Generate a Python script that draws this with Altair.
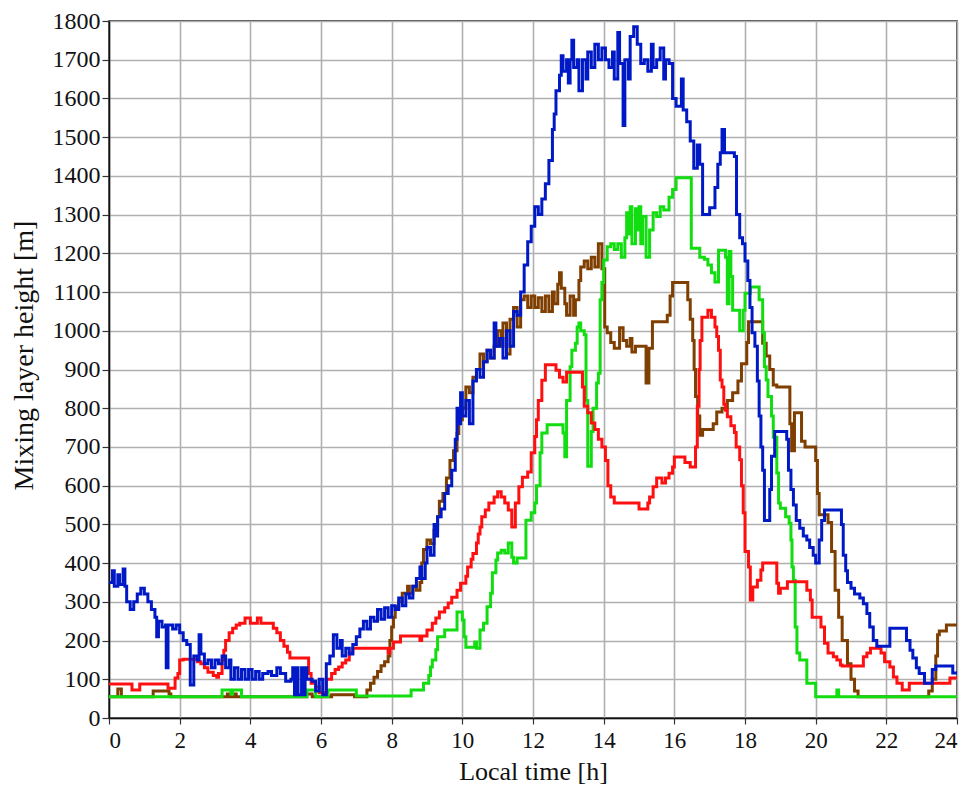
import altair as alt
import pandas as pd

# ---- series: (local time [h], mixing layer height [m]) step points ----
blue = [(0.0, 350), (0.1, 380), (0.15, 340), (0.25, 370), (0.3, 345), (0.4, 385), (0.45, 340),
        (0.5, 300), (0.6, 280), (0.7, 300), (0.8, 320), (0.9, 335), (1.0, 320), (1.1, 300),
        (1.2, 280), (1.3, 260), (1.35, 210), (1.4, 250), (1.5, 235), (1.6, 240), (1.62, 130),
        (1.67, 240), (1.8, 230), (1.9, 240), (2.0, 220), (2.1, 200), (2.2, 190), (2.3, 85),
        (2.4, 160), (2.5, 150), (2.55, 215), (2.6, 165), (2.7, 140), (2.8, 150), (2.9, 130),
        (3.0, 150), (3.1, 140), (3.2, 160), (3.3, 130), (3.4, 150), (3.45, 100), (3.55, 130),
        (3.65, 100), (3.75, 125), (3.85, 100), (3.95, 125), (4.05, 100), (4.15, 120), (4.25, 100),
        (4.35, 115), (4.5, 120), (4.6, 110), (4.75, 130), (4.85, 115), (5.0, 95), (5.15, 100),
        (5.2, 130), (5.25, 60), (5.3, 130), (5.35, 60), (5.45, 130), (5.5, 60), (5.55, 130),
        (5.6, 100), (5.75, 95), (5.85, 70), (5.95, 100), (6.05, 60), (6.15, 140), (6.25, 160),
        (6.35, 215), (6.45, 180), (6.55, 200), (6.6, 160), (6.7, 180), (6.8, 165), (6.9, 190),
        (7.0, 210), (7.1, 230), (7.2, 250), (7.3, 230), (7.4, 260), (7.5, 250), (7.6, 280),
        (7.7, 255), (7.8, 285), (7.9, 260), (8.0, 290), (8.1, 280), (8.2, 310), (8.3, 290),
        (8.4, 320), (8.5, 310), (8.6, 340), (8.7, 360), (8.8, 390), (8.85, 360), (8.95, 400),
        (9.0, 440), (9.1, 420), (9.2, 500), (9.25, 470), (9.3, 520), (9.4, 540), (9.5, 580),
        (9.6, 600), (9.7, 640), (9.8, 720), (9.85, 800), (9.9, 760), (9.95, 840), (10.0, 780),
        (10.1, 820), (10.2, 760), (10.3, 870), (10.4, 900), (10.5, 880), (10.6, 920), (10.7, 950),
        (10.8, 930), (10.9, 1020), (10.95, 960), (11.05, 980), (11.15, 930), (11.25, 1000),
        (11.35, 960), (11.45, 1050), (11.55, 1040), (11.65, 1100), (11.75, 1170), (11.85, 1230),
        (11.95, 1270), (12.05, 1320), (12.15, 1300), (12.25, 1340), (12.35, 1380), (12.45, 1440),
        (12.55, 1520), (12.6, 1560), (12.65, 1620), (12.75, 1660), (12.8, 1710), (12.85, 1670),
        (12.95, 1700), (13.0, 1640), (13.05, 1700), (13.1, 1750), (13.15, 1680), (13.25, 1700),
        (13.3, 1620), (13.4, 1700), (13.5, 1650), (13.55, 1720), (13.65, 1680), (13.75, 1740),
        (13.85, 1700), (13.95, 1730), (14.05, 1700), (14.15, 1680), (14.25, 1720), (14.3, 1650),
        (14.4, 1770), (14.45, 1690), (14.55, 1530), (14.6, 1700), (14.7, 1650), (14.75, 1760),
        (14.85, 1785), (14.95, 1740), (15.05, 1690), (15.15, 1700), (15.25, 1670), (15.35, 1740),
        (15.4, 1680), (15.5, 1700), (15.6, 1730), (15.7, 1650), (15.75, 1700), (15.85, 1690),
        (15.95, 1600), (16.05, 1580), (16.2, 1650), (16.25, 1570), (16.35, 1540), (16.45, 1490),
        (16.55, 1420), (16.65, 1480), (16.72, 1430), (16.8, 1300), (17.0, 1318), (17.15, 1370),
        (17.23, 1430), (17.3, 1460), (17.35, 1520), (17.42, 1460), (17.7, 1450), (17.76, 1300),
        (17.85, 1240), (17.93, 1225), (18.0, 1180), (18.08, 1130), (18.14, 1060), (18.2, 995),
        (18.28, 960), (18.35, 870), (18.4, 780), (18.45, 700), (18.5, 640), (18.55, 510),
        (18.7, 590), (18.75, 676), (18.84, 740), (19.18, 720), (19.23, 640), (19.3, 590),
        (19.37, 550), (19.45, 510), (19.55, 490), (19.65, 470), (19.75, 460), (19.83, 440),
        (19.93, 420), (20.0, 400), (20.1, 460), (20.17, 510), (20.25, 537), (20.73, 500),
        (20.78, 420), (20.85, 380), (20.9, 350), (21.0, 335), (21.1, 320), (21.25, 310),
        (21.35, 295), (21.45, 270), (21.53, 235), (21.63, 200), (21.73, 185), (22.1, 232),
        (22.57, 200), (22.67, 175), (22.75, 155), (22.85, 130), (22.93, 115), (23.08, 90),
        (23.3, 125), (23.4, 134), (23.88, 116), (24.0, 116)]

brown = [(0.0, 55), (0.25, 75), (0.35, 55), (1.25, 70), (1.7, 62), (1.75, 55), (3.35, 62),
         (3.4, 55), (3.55, 62), (3.6, 55), (5.6, 62), (5.75, 55), (6.3, 60), (6.95, 55), (7.3, 72),
         (7.4, 90), (7.5, 105), (7.6, 120), (7.7, 135), (7.8, 145), (7.9, 160), (7.95, 200),
         (8.0, 235), (8.05, 260), (8.1, 287), (8.2, 300), (8.3, 322), (8.45, 340), (8.5, 322),
         (8.6, 340), (8.7, 330), (8.8, 350), (8.85, 400), (8.9, 435), (9.0, 460), (9.1, 450),
         (9.2, 485), (9.3, 520), (9.35, 560), (9.45, 580), (9.55, 620), (9.65, 665), (9.75, 690),
         (9.85, 735), (9.9, 770), (10.0, 800), (10.1, 855), (10.2, 840), (10.3, 880), (10.4, 900),
         (10.5, 940), (10.6, 920), (10.7, 950), (10.8, 930), (10.9, 960), (11.0, 1000),
         (11.1, 960), (11.15, 1020), (11.25, 940), (11.35, 1030), (11.45, 1060), (11.55, 1010),
         (11.65, 1080), (11.75, 1090), (11.85, 1060), (11.95, 1090), (12.05, 1060),
         (12.15, 1085), (12.25, 1050), (12.35, 1090), (12.45, 1050), (12.55, 1100), (12.6, 1070),
         (12.7, 1120), (12.75, 1150), (12.8, 1110), (12.9, 1070), (12.95, 1040), (13.05, 1090),
         (13.15, 1040), (13.2, 1080), (13.3, 1130), (13.35, 1165), (13.45, 1180), (13.55, 1160),
         (13.65, 1190), (13.75, 1165), (13.85, 1225), (13.95, 1160), (14.03, 1010), (14.1, 995),
         (14.2, 970), (14.3, 955), (14.45, 1008), (14.55, 975), (14.65, 960), (14.75, 980),
         (14.8, 945), (14.9, 960), (15.2, 865), (15.28, 955), (15.38, 1023), (15.8, 1040),
         (15.88, 1090), (15.95, 1125), (16.38, 1080), (16.45, 1030), (16.52, 975), (16.56, 900),
         (16.6, 830), (16.66, 780), (16.72, 730), (16.8, 745), (17.1, 760), (17.2, 790),
         (17.35, 800), (17.5, 820), (17.65, 840), (17.8, 870), (17.9, 915), (18.05, 970),
         (18.1, 1023), (18.5, 968), (18.6, 935), (18.7, 900), (18.8, 860), (18.9, 855),
         (19.27, 760), (19.32, 690), (19.4, 788), (19.6, 715), (19.7, 700), (20.0, 665),
         (20.05, 580), (20.1, 525), (20.35, 505), (20.45, 430), (20.55, 330), (20.65, 260),
         (20.75, 200), (20.9, 140), (21.0, 100), (21.1, 70), (21.2, 55), (23.2, 70), (23.3, 100),
         (23.4, 160), (23.45, 215), (23.5, 225), (23.7, 240), (24.0, 240)]

red = [(0.0, 88), (0.65, 72), (0.87, 88), (1.67, 77), (1.87, 103), (1.95, 115), (2.0, 150),
       (2.1, 152), (2.5, 145), (2.6, 140), (2.7, 130), (2.8, 118), (2.95, 110), (3.05, 105),
       (3.1, 115), (3.2, 150), (3.25, 175), (3.3, 200), (3.4, 220), (3.5, 232), (3.6, 240),
       (3.7, 245), (3.85, 258), (4.0, 245), (4.2, 258), (4.3, 245), (4.65, 232), (4.75, 220),
       (4.85, 200), (4.95, 185), (5.05, 170), (5.12, 155), (5.65, 115), (5.72, 90), (5.85, 80),
       (5.95, 65), (6.15, 100), (6.3, 115), (6.4, 125), (6.5, 132), (6.6, 142), (6.7, 150),
       (6.8, 168), (6.9, 180), (7.9, 168), (7.95, 180), (8.05, 196), (8.25, 212), (8.8, 200),
       (8.85, 212), (9.0, 227), (9.15, 245), (9.25, 258), (9.35, 274), (9.5, 285), (9.6, 297),
       (9.7, 312), (9.85, 330), (9.95, 348), (10.1, 366), (10.15, 390), (10.25, 410), (10.3, 425),
       (10.4, 452), (10.45, 475), (10.5, 493), (10.55, 520), (10.65, 537), (10.75, 555),
       (10.9, 571), (11.0, 584), (11.1, 571), (11.2, 555), (11.3, 537), (11.4, 493), (11.5, 555),
       (11.6, 597), (11.7, 622), (11.85, 635), (11.95, 685), (12.05, 727), (12.1, 770),
       (12.15, 820), (12.25, 872), (12.35, 912), (12.65, 898), (12.75, 880), (12.85, 868),
       (12.95, 893), (13.4, 855), (13.45, 805), (13.55, 788), (13.65, 762), (13.75, 745),
       (13.85, 720), (13.95, 700), (14.05, 665), (14.12, 600), (14.2, 571), (14.3, 555),
       (15.0, 540), (15.25, 555), (15.3, 571), (15.4, 597), (15.5, 620), (15.65, 607),
       (15.75, 620), (15.85, 632), (15.95, 648), (16.0, 674), (16.3, 660), (16.45, 648),
       (16.6, 700), (16.65, 805), (16.7, 900), (16.73, 975), (16.78, 1035), (16.95, 1053),
       (17.05, 1035), (17.15, 1010), (17.2, 985), (17.25, 950), (17.3, 873), (17.35, 855),
       (17.4, 810), (17.45, 795), (17.5, 778), (17.6, 755), (17.7, 737), (17.75, 700),
       (17.85, 667), (17.9, 600), (17.95, 530), (18.0, 430), (18.1, 390), (18.15, 305),
       (18.22, 338), (18.35, 356), (18.45, 382), (18.5, 400), (18.9, 348), (18.95, 322),
       (19.0, 335), (19.2, 352), (19.75, 330), (19.85, 305), (19.9, 260), (20.15, 235),
       (20.25, 193), (20.35, 168), (20.5, 158), (20.6, 150), (20.7, 137), (20.75, 134),
       (21.35, 158), (21.45, 168), (21.55, 180), (21.85, 168), (21.95, 145), (22.1, 132),
       (22.2, 106), (22.3, 90), (22.45, 72), (22.65, 90), (23.8, 103), (24.0, 103)]

green = [(0.0, 55), (3.2, 72), (3.45, 62), (3.5, 72), (3.75, 55), (5.6, 72), (5.85, 55), (6.2, 72),
         (7.0, 57), (8.55, 72), (8.9, 90), (9.05, 110), (9.1, 132), (9.15, 150), (9.25, 176),
         (9.3, 210), (9.5, 227), (9.85, 274), (10.0, 253), (10.05, 210), (10.1, 183),
         (10.35, 196), (10.4, 180), (10.5, 227), (10.6, 245), (10.7, 287), (10.8, 322),
         (10.85, 375), (10.95, 408), (11.0, 426), (11.1, 433), (11.2, 426), (11.3, 452),
         (11.4, 415), (11.45, 400), (11.55, 413), (11.8, 511), (11.95, 530), (12.05, 555),
         (12.1, 600), (12.2, 685), (12.25, 736), (12.4, 757), (12.85, 736), (12.9, 675),
         (12.95, 820), (13.05, 907), (13.1, 950), (13.2, 968), (13.25, 1010), (13.3, 1020),
         (13.35, 1000), (13.45, 990), (13.5, 820), (13.55, 650), (13.65, 740), (13.7, 800),
         (13.8, 865), (13.85, 890), (13.9, 1080), (13.95, 1125), (14.0, 1183), (14.1, 1217),
         (14.2, 1225), (14.3, 1210), (14.4, 1225), (14.5, 1190), (14.6, 1240), (14.65, 1305),
         (14.7, 1250), (14.75, 1320), (14.8, 1225), (14.9, 1315), (14.95, 1260), (15.0, 1320),
         (15.05, 1225), (15.1, 1295), (15.2, 1190), (15.3, 1260), (15.4, 1305), (15.5, 1295),
         (15.6, 1320), (15.7, 1312), (15.85, 1345), (15.95, 1365), (16.05, 1395), (16.48, 1213),
         (16.72, 1190), (16.85, 1185), (16.95, 1170), (17.05, 1150), (17.15, 1126),
         (17.25, 1208), (17.45, 1190), (17.5, 1070), (17.55, 1205), (17.6, 1140), (17.65, 1053),
         (17.85, 1000), (17.95, 1053), (18.0, 1097), (18.15, 1113), (18.4, 1080), (18.5, 995),
         (18.55, 907), (18.6, 873), (18.65, 830), (18.75, 780), (18.8, 725), (18.9, 633),
         (18.95, 555), (19.0, 542), (19.15, 520), (19.25, 503), (19.3, 460), (19.33, 390),
         (19.37, 356), (19.42, 235), (19.47, 168), (19.55, 150), (19.75, 90), (20.0, 55),
         (20.6, 72), (20.65, 55), (24.0, 55)]

# ---- shared styling ----
FONT = "Liberation Serif"
x_scale = alt.Scale(domain=[0, 24], nice=False, zero=False)
y_scale = alt.Scale(domain=[0, 1800], nice=False)
x_axis = alt.Axis(values=list(range(0, 25, 2)), title="Local time [h]", format="d",
                  labelFont=FONT, titleFont=FONT,
                  labelFontSize=23, titleFontSize=26, tickSize=6, labelPadding=5,
                  titlePadding=6)
y_axis = alt.Axis(values=list(range(0, 1801, 100)), title="Mixing layer height [m]",
                  format="d", labelFont=FONT, titleFont=FONT,
                  labelFontSize=24, titleFontSize=28, tickSize=7,
                  labelPadding=2, titleX=-85, titleY=334, titleBaseline="middle",
                  titleAlign="center", titleAngle=270)


def series_layer(points, color):
    df = pd.DataFrame(points, columns=["t", "v"])
    return alt.Chart(df).mark_line(
        interpolate="step-after", color=color, strokeWidth=3, clip=True
    ).encode(
        x=alt.X("t:Q", scale=x_scale, axis=x_axis),
        y=alt.Y("v:Q", scale=y_scale, axis=y_axis),
    )


chart = alt.layer(
    series_layer(brown, "#7F3F00"),
    series_layer(green, "#11DD11"),
    series_layer(red, "#FF1010"),
    series_layer(blue, "#0019C6"),
).properties(
    width=848,
    height=697,
    autosize=alt.AutoSizeParams(type="none"),
    padding={"left": 109, "top": 21, "right": 13, "bottom": 70},
    background="white",
).configure_view(
    stroke="#111111", strokeWidth=1.5
).configure_axis(
    labelFont=FONT, titleFont=FONT, titleFontWeight="normal",
    labelColor="#111111", titleColor="#111111",
    gridColor="#b0b0b0", gridWidth=1.6, grid=True,
    domainColor="#111111", domainWidth=1.5,
    tickColor="#333333", tickWidth=1.2,
)

chart.save("out.html", embed_options={"renderer": "svg", "actions": False})
